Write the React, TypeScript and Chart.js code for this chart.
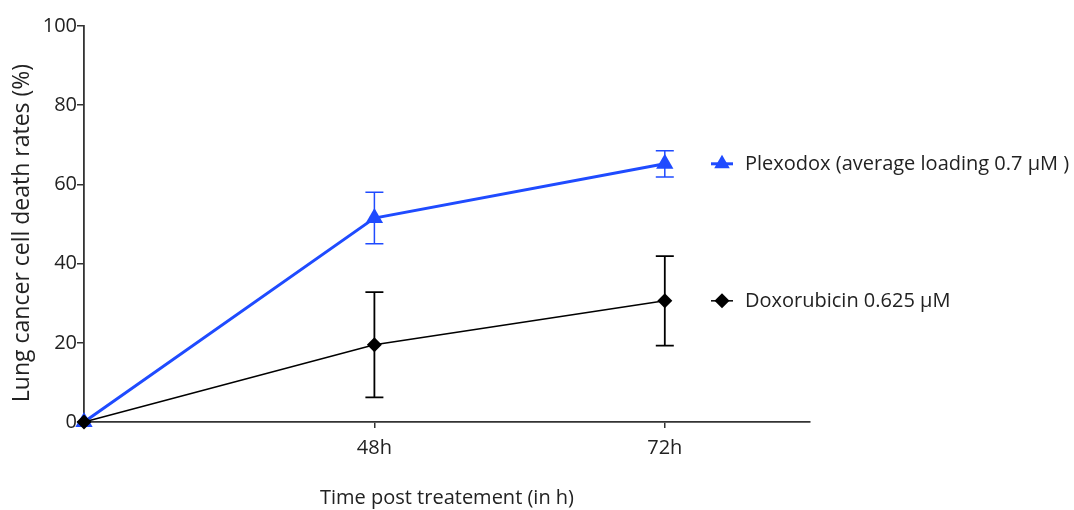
import React, { useEffect, useRef } from "react";
import { Chart, registerables } from "chart.js";

Chart.register(...registerables);

const xPositions = [0, 1, 2];
const xTickLabels = ["", "48h", "72h"];
const plexodoxValues = [0, 51.5, 65.2];
const plexodoxErrors = [0, 6.5, 3.3];
const doxorubicinValues = [0, 19.5, 30.6];
const doxorubicinErrors = [0, 13.3, 11.3];
const seriesLabels = ["Plexodox (average loading 0.7 μM )", "Doxorubicin 0.625 μM"];
const yTicks = [0, 20, 40, 60, 80, 100];
const xTitle = "Time post treatement (in h)";
const yTitle = "Lung cancer cell death rates (%)";

const BLUE = "#1f4bff";
const BLACK = "#000000";
const TEXT = "#222222";
const FONT = "'Open Sans', sans-serif";

export default function App() {
  const ref = useRef<HTMLCanvasElement>(null);
  useEffect(() => {
    const canvas = ref.current;
    if (!canvas) return;

    const overlay = {
      id: "overlay",
      afterDatasetsDraw(chart: any) {
        const ctx = chart.ctx;
        const xs = chart.scales.x;
        const ys = chart.scales.y;
        const drawErr = (vals: number[], errs: number[], color: string, lw: number) => {
          ctx.save();
          ctx.strokeStyle = color;
          ctx.lineWidth = lw;
          vals.forEach((v, i) => {
            if (!errs[i]) return;
            const x = xs.getPixelForValue(xPositions[i]);
            const yt = ys.getPixelForValue(v + errs[i]);
            const yb = ys.getPixelForValue(v - errs[i]);
            ctx.beginPath();
            ctx.moveTo(x, yt);
            ctx.lineTo(x, yb);
            ctx.moveTo(x - 9, yt);
            ctx.lineTo(x + 9, yt);
            ctx.moveTo(x - 9, yb);
            ctx.lineTo(x + 9, yb);
            ctx.stroke();
          });
          ctx.restore();
        };
        drawErr(plexodoxValues, plexodoxErrors, BLUE, 1.5);
        drawErr(doxorubicinValues, doxorubicinErrors, BLACK, 1.8);

        // legend entries beside last points
        const lx = 722;
        const entries = [
          { label: seriesLabels[0], v: plexodoxValues[2], color: BLUE, shape: "tri", lw: 3 },
          { label: seriesLabels[1], v: doxorubicinValues[2], color: BLACK, shape: "dia", lw: 1.5 },
        ];
        entries.forEach((e) => {
          const y = ys.getPixelForValue(e.v);
          ctx.save();
          ctx.strokeStyle = e.color;
          ctx.fillStyle = e.color;
          ctx.lineWidth = e.lw;
          ctx.beginPath();
          ctx.moveTo(lx - 11, y);
          ctx.lineTo(lx + 11, y);
          ctx.stroke();
          ctx.beginPath();
          if (e.shape === "tri") {
            const r = 9;
            ctx.moveTo(lx, y - r);
            ctx.lineTo(lx + 0.866 * r, y + 0.5 * r);
            ctx.lineTo(lx - 0.866 * r, y + 0.5 * r);
          } else {
            const r = 7.5;
            ctx.moveTo(lx, y - r);
            ctx.lineTo(lx + r, y);
            ctx.lineTo(lx, y + r);
            ctx.lineTo(lx - r, y);
          }
          ctx.closePath();
          ctx.fill();
          ctx.fillStyle = TEXT;
          ctx.font = `20px ${FONT}`;
          ctx.textAlign = "left";
          ctx.textBaseline = "middle";
          ctx.fillText(e.label, 745, y);
          ctx.restore();
        });

        // axis titles
        ctx.save();
        ctx.fillStyle = TEXT;
        ctx.font = `20px ${FONT}`;
        ctx.textAlign = "center";
        ctx.textBaseline = "middle";
        ctx.fillText(xTitle, (xs.left + xs.right) / 2, 498);
        ctx.translate(22, 233);
        ctx.rotate(-Math.PI / 2);
        ctx.font = `23px ${FONT}`;
        ctx.fillText(yTitle, 0, 0);
        ctx.restore();
      },
    };

    const chart = new Chart(canvas, {
      type: "line",
      data: {
        datasets: [
          {
            label: seriesLabels[1],
            data: xPositions.map((x, i) => ({ x, y: doxorubicinValues[i] })),
            borderColor: BLACK,
            backgroundColor: BLACK,
            borderWidth: 1.5,
            pointStyle: "rectRot",
            pointRadius: 7.5,
            pointBorderWidth: 0,
            clip: false as any,
            order: 0,
          },
          {
            label: seriesLabels[0],
            data: xPositions.map((x, i) => ({ x, y: plexodoxValues[i] })),
            borderColor: BLUE,
            backgroundColor: BLUE,
            borderWidth: 3,
            pointStyle: "triangle",
            pointRadius: 10,
            pointBorderWidth: 0,
            clip: false as any,
            order: 1,
          },
        ],
      },
      options: {
        animation: false,
        responsive: false,
        maintainAspectRatio: false,
        layout: { padding: { left: 0, right: 264, top: 26, bottom: 0 } },
        plugins: { legend: { display: false }, tooltip: { enabled: false } },
        scales: {
          x: {
            type: "linear",
            min: 0,
            max: 2.5,
            afterBuildTicks: (s: any) => {
              s.ticks = [{ value: 1 }, { value: 2 }];
            },
            afterFit: (s: any) => {
              s.height = 88;
            },
            grid: { display: true, drawOnChartArea: false, drawTicks: true, tickLength: 6, color: "#333", lineWidth: 1.5 },
            border: { display: true, color: "#333", width: 1.8 },
            ticks: {
              color: TEXT,
              font: { family: FONT, size: 20 },
              padding: 8,
              maxRotation: 0,
              callback: (v: any) => xTickLabels[Math.round(Number(v))] ?? "",
            },
          },
          y: {
            type: "linear",
            min: 0,
            max: 100,
            afterBuildTicks: (s: any) => {
              s.ticks = yTicks.map((value) => ({ value }));
            },
            afterFit: (s: any) => {
              s.width = 84;
            },
            grid: { display: true, drawOnChartArea: false, drawTicks: true, tickLength: 7, color: "#333", lineWidth: 1.5 },
            border: { display: true, color: "#333", width: 1.8 },
            ticks: {
              color: TEXT,
              font: { family: FONT, size: 20 },
              padding: 0,
            },
          },
        },
      },
      plugins: [overlay],
    } as any);
    return () => chart.destroy();
  }, []);
  return (
    <div style={{ position: "fixed", left: 0, top: 0, width: 1074, height: 510, background: "#fff" }}>
      <canvas ref={ref} width={1074} height={510} style={{ width: 1074, height: 510 }} />
    </div>
  );
}
